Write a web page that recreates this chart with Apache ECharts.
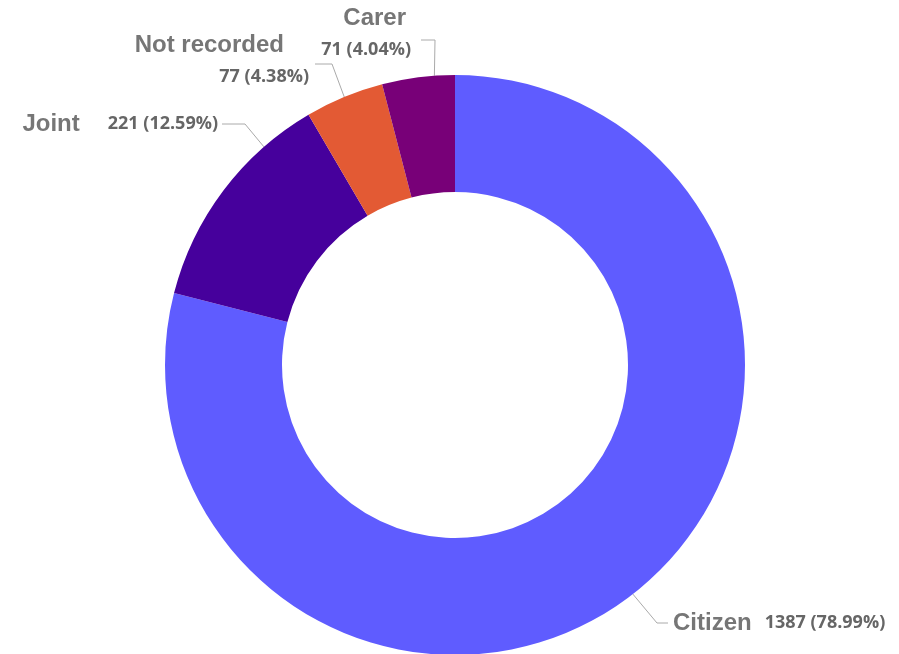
<!DOCTYPE html>
<html>
<head>
<meta charset="utf-8">
<script src="https://cdn.jsdelivr.net/npm/echarts@6/dist/echarts.min.js"></script>
<style>
  html, body { margin: 0; padding: 0; background: #ffffff; }
  #chart { width: 899px; height: 654px; }
</style>
</head>
<body>
<div id="chart"></div>
<script>
// Cases by who raised them
const categories = ['Citizen', 'Joint', 'Not recorded', 'Carer'];
const counts = [1387, 221, 77, 71];
const sliceColors = ['#5F5CFF', '#46009C', '#E35A34', '#780078'];

const CENTER = [455, 365];
const RADII = [173, 290];

// where along each slice's sweep (0..1) its leader line leaves the ring
const anchorFrac = [0.5, 0.76, 0.5, 0.72];
// leader line elbow / end, and where each label's text sits
const labelSpots = [
  { elbow: [657, 623], end: [668, 623], text: [673, 623], align: 'left' },
  { elbow: [245, 124], end: [222, 124], text: [218, 124], align: 'right' },
  { elbow: [332, 64],  end: [315, 64],  text: [309, 61],  align: 'right' },
  { elbow: [435, 40],  end: [421, 40],  text: [411, 34],  align: 'right' }
];

const total = counts.reduce((s, v) => s + v, 0);

function anchorPoint(i) {
  const before = counts.slice(0, i).reduce((s, v) => s + v, 0);
  const ang = 2 * Math.PI * (before + anchorFrac[i] * counts[i]) / total;
  return [CENTER[0] + RADII[1] * Math.sin(ang), CENTER[1] - RADII[1] * Math.cos(ang)];
}

const nameStyle = {
  fontFamily: 'Liberation Sans, Arial, sans-serif',
  fontSize: 24, fontWeight: 'bold', color: '#767676', align: 'right'
};
const valueStyle = {
  fontFamily: 'Open Sans, sans-serif',
  fontSize: 18, fontWeight: 'bold', color: '#666666', align: 'right'
};

// per-slice label templates
const labelTemplates = [
  '{n|{b}}{g13| }{v|{c} ({d}%)}',
  '{n|{b}}{g28| }{v|{c} ({d}%)}',
  '{n25|{b}}\n{v|{c} ({d}%)}',
  '{n5|{b}}\n{v|{c} ({d}%)}'
];

const chart = echarts.init(document.getElementById('chart'), null, { renderer: 'canvas' });

chart.setOption({
  backgroundColor: '#ffffff',
  animation: false,
  series: [{
    type: 'pie',
    center: CENTER,
    radius: RADII,
    startAngle: 90,
    clockwise: true,
    avoidLabelOverlap: false,
    data: categories.map((name, i) => ({
      name: name,
      value: counts[i],
      itemStyle: { color: sliceColors[i] },
      label: { formatter: labelTemplates[i] }
    })),
    label: {
      show: true,
      position: 'outside',
      lineHeight: 32,
      rich: {
        n: nameStyle,
        n25: Object.assign({}, nameStyle, { padding: [0, 25, 0, 0] }),
        n5: Object.assign({}, nameStyle, { padding: [0, 5, 0, 0] }),
        v: Object.assign({}, valueStyle, { lineHeight: 32 }),
        g13: { width: 13, align: 'right' },
        g28: { width: 28, align: 'right' }
      }
    },
    labelLine: {
      show: true,
      smooth: false,
      lineStyle: { color: '#aaaaaa', width: 1 }
    },
    labelLayout: function (p) {
      const i = p.dataIndex;
      const s = labelSpots[i];
      return {
        x: s.text[0],
        y: s.text[1],
        align: s.align,
        verticalAlign: 'middle',
        labelLinePoints: [anchorPoint(i), s.elbow, s.end]
      };
    },
    emphasis: { disabled: true }
  }]
});
</script>
</body>
</html>
